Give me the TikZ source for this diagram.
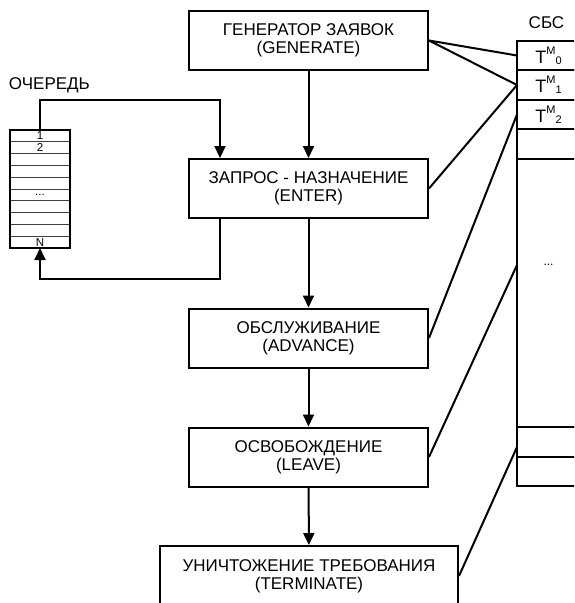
\documentclass[tikz,border=0pt]{standalone}
\usepackage{fontspec}
\setmainfont{Liberation Sans}
\usetikzlibrary{arrows.meta,positioning}
\newcommand{\tmark}[1]{T\raisebox{9pt}{\fontsize{11}{11}\selectfont M}\raisebox{-1pt}{\fontsize{11}{11}\selectfont #1}}

\begin{document}
\begin{tikzpicture}[x=1pt, y=-1pt, line width=2pt,
    box/.style={draw, minimum width=239pt, minimum height=59pt, align=center, font=\fontsize{17}{18}\selectfont},
    cell/.style={draw=black!75, line width=0.8pt, minimum width=60pt, minimum height=11.8pt, inner sep=0pt, outer sep=0pt, font=\fontsize{11.5}{11.5}\selectfont},
    row/.style={draw, minimum width=63pt, inner sep=0pt, outer sep=0pt, font=\fontsize{18}{18}\selectfont},
    lbl/.style={inner sep=0pt, font=\fontsize{17}{18}\selectfont},
    arr/.style={-{Triangle[width=11pt,length=12pt]}}]
    \useasboundingbox (0,0) rectangle (574,603);
    \clip (0,0) rectangle (574,603);

    % blocks of the model
    \node[box] (gen) at (308.5,40.5) {ГЕНЕРАТОР ЗАЯВОК\\(GENERATE)};
    \node[box, below of=gen, node distance=148pt] (enter) {ЗАПРОС - НАЗНАЧЕНИЕ\\(ENTER)};
    \node[box, below of=enter, node distance=149.5pt] (adv) {ОБСЛУЖИВАНИЕ\\(ADVANCE)};
    \node[box, below of=adv, node distance=119pt] (leave) {ОСВОБОЖДЕНИЕ\\(LEAVE)};
    \node[box, minimum width=298pt, minimum height=60pt] (term) at (309,576) {УНИЧТОЖЕНИЕ ТРЕБОВАНИЯ\\(TERMINATE)};

    % queue
    \node[lbl, anchor=base west] (qname) at (8,89) {ОЧЕРЕДЬ};
    \foreach \i/\t in {1/1,2/2,3/,4/,5/,6/{...},7/,8/,9/,10/N}
        \node[cell] (q\i) at (40,{124.1+11.8*\i}) {\t};
    \draw (q1.north west) rectangle (q10.south east);

    % SBS table
    \node[lbl, anchor=base] (sname) at (546.5,28) {СБС};
    \node[row, minimum height=29pt, anchor=north west] (t0) at (517,41) {\tmark{0}};
    \node[row, minimum height=30pt, below=0pt of t0] (t1) {\tmark{1}};
    \node[row, minimum height=29pt, below=0pt of t1] (t2) {\tmark{2}};
    \node[row, minimum height=30pt, below=0pt of t2] (t3) {};
    \node[row, minimum height=268pt, below=0pt of t3] (big) {};
    \node[row, minimum height=30pt, below=0pt of big] (r1) {};
    \node[row, minimum height=29pt, below=0pt of r1] (r2) {};
    \node[inner sep=0pt, font=\fontsize{12}{12}\selectfont] (dots) at (548.5,265) {...};

    \draw[arr] (gen) -- (enter);
    \draw[arr] (enter) -- (adv);
    \draw[arr] (adv) -- (leave);
    \draw[arr] (leave) -- (term);
    \draw[arr] (q1.north) -- ++(0,-30) -| ([xshift=-88.5pt]enter.north);
    \draw[arr] ([xshift=-88.5pt]enter.south) -- ++(0,60) -| (q10.south);

    \draw (gen.east) -- (t0.west);
    \draw (gen.east) -- (t1.west);
    \draw (enter.east) -- (t1.west);
    \draw (adv.east) -- (t2.west);
    \draw (leave.east) -- (big.west |- dots);
    \draw (term.east) -- ([yshift=-5pt]r1.west);
\end{tikzpicture}
\end{document}
